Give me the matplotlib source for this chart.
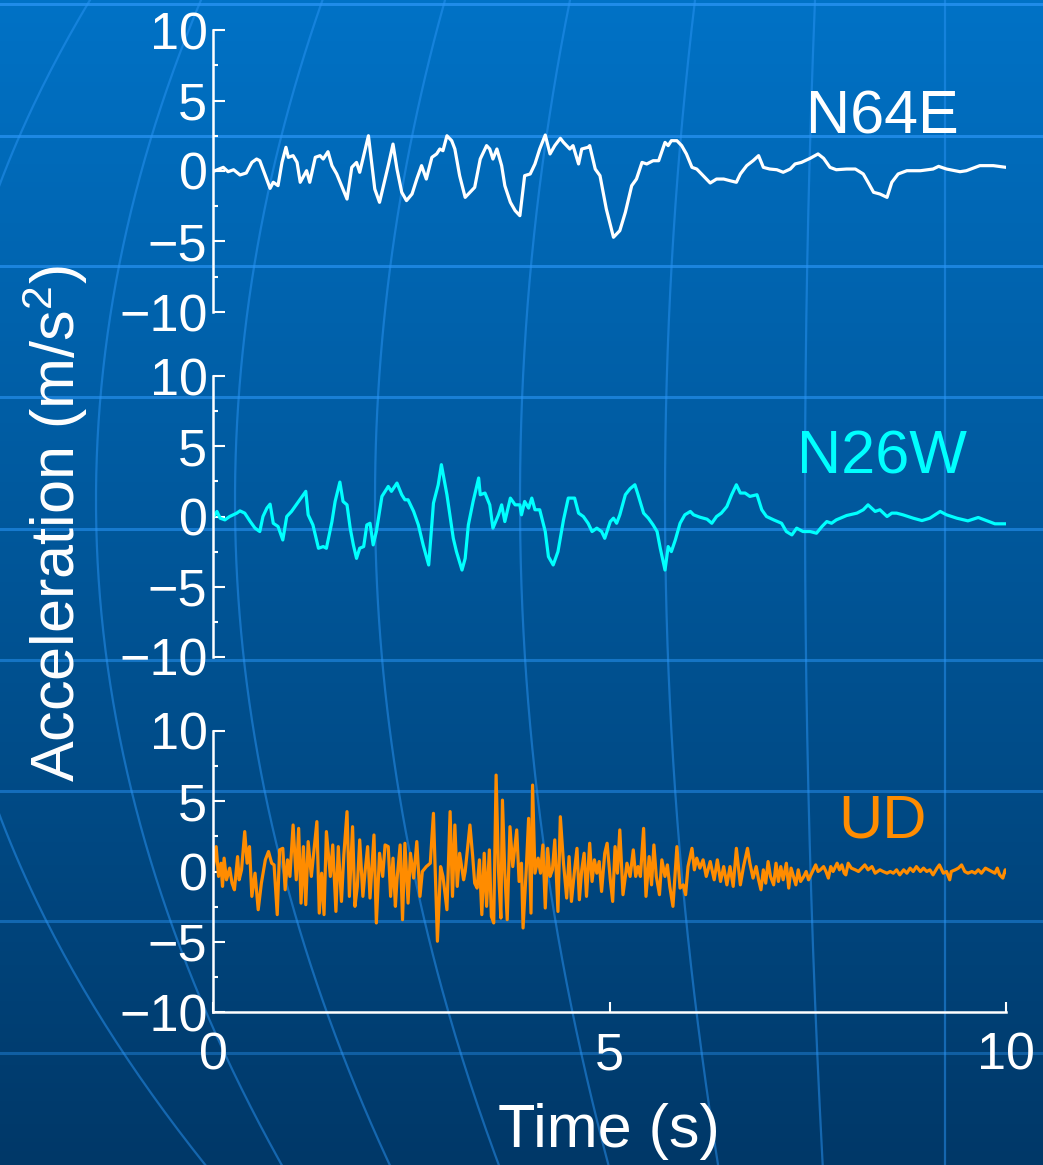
import numpy as np
import matplotlib
matplotlib.use("Agg")
import matplotlib.pyplot as plt
from matplotlib.ticker import MultipleLocator

plt.rcParams['font.family'] = ['Liberation Sans', 'DejaVu Sans']
plt.rcParams['mathtext.fontset'] = 'custom'
plt.rcParams['mathtext.rm'] = 'Liberation Sans'
plt.rcParams['mathtext.it'] = 'Liberation Sans:italic'
plt.rcParams['axes.unicode_minus'] = True

# ---------------- data ----------------
n64e_t = [0.025, 0.13, 0.19, 0.26, 0.34, 0.42, 0.49, 0.55, 0.59, 0.66, 0.72, 0.76, 0.82, 0.87, 0.92, 0.95,
          1.01, 1.06, 1.10, 1.18, 1.22, 1.29, 1.35, 1.39, 1.45, 1.50, 1.56, 1.62, 1.69, 1.75, 1.81, 1.85,
          1.90, 1.96, 2.00, 2.04, 2.10, 2.15, 2.21, 2.27, 2.32, 2.38, 2.44, 2.51, 2.57, 2.63, 2.69, 2.76,
          2.82, 2.86, 2.90, 2.95, 3.01, 3.05, 3.11, 3.18, 3.24, 3.30, 3.37, 3.45, 3.49, 3.53, 3.58, 3.64,
          3.68, 3.75, 3.81, 3.87, 3.93, 4.00, 4.06, 4.12, 4.19, 4.25, 4.31, 4.38, 4.42, 4.50, 4.54, 4.61,
          4.65, 4.73, 4.75, 4.82, 4.88, 4.96, 5.05, 5.13, 5.20, 5.28, 5.34, 5.41, 5.47, 5.55, 5.62, 5.70,
          5.74, 5.78, 5.85, 5.91, 5.97, 6.04, 6.10, 6.18, 6.27, 6.35, 6.44, 6.52, 6.60, 6.65, 6.73, 6.81,
          6.88, 6.94, 7.02, 7.11, 7.19, 7.28, 7.34, 7.42, 7.53, 7.63, 7.70, 7.78, 7.86, 7.99, 8.10, 8.20,
          8.26, 8.33, 8.41, 8.50, 8.56, 8.64, 8.75, 8.92, 9.08, 9.15, 9.25, 9.42, 9.50, 9.67, 9.84, 10.0]
n64e_a = [0.02, 0.26, -0.05, 0.09, -0.28, -0.14, 0.61, 0.85, 0.73, -0.33, -1.23, -0.80, -1.04, 0.61, 1.68, 0.97,
          1.09, 0.61, -0.80, 0.02, -0.80, 0.97, 1.09, 0.85, 1.37, 0.38, -0.21, -1.04, -1.99, 0.26, 0.61, -0.09,
          1.09, 2.50, 0.61, -1.28, -2.22, -1.04, 0.38, 1.91, 0.14, -1.51, -2.10, -1.63, -0.57, 0.38, -0.57, 0.97,
          1.21, 1.56, 1.44, 2.50, 2.15, 1.56, -0.33, -1.87, -1.51, -1.16, 0.85, 1.80, 1.56, 0.85, 1.56, 0.38,
          -1.04, -2.22, -2.81, -3.17, -0.33, -0.21, 0.50, 1.56, 2.55, 1.21, 1.80, 2.32, 2.03, 1.56, 1.80, 0.50,
          1.56, 1.68, 1.80, 0.14, -0.33, -2.70, -4.70, -4.23, -2.93, -1.04, -0.57, 0.61, 0.50, 0.73, 0.73, 2.03,
          1.80, 2.15, 2.15, 1.80, 1.21, 0.26, 0.14, -0.33, -0.85, -0.57, -0.57, -0.69, -0.80, -0.21, 0.38, 0.73,
          1.09, 0.26, 0.14, 0.09, -0.09, 0.14, 0.50, 0.61, 0.90, 1.21, 0.90, 0.26, 0.09, 0.14, 0.14, -0.21,
          -0.80, -1.51, -1.63, -1.87, -0.80, -0.21, 0.02, 0.02, 0.14, 0.33, 0.14, -0.05, 0.02, 0.38, 0.38, 0.26]

n26w_t = [0.00, 0.05, 0.09, 0.15, 0.21, 0.30, 0.34, 0.40, 0.47, 0.53, 0.59, 0.63, 0.68, 0.72, 0.76, 0.82,
          0.88, 0.93, 0.99, 1.08, 1.14, 1.17, 1.20, 1.26, 1.33, 1.39, 1.43, 1.50, 1.54, 1.60, 1.64, 1.69,
          1.73, 1.77, 1.81, 1.85, 1.90, 1.94, 1.98, 2.02, 2.06, 2.13, 2.21, 2.25, 2.32, 2.38, 2.42, 2.46,
          2.53, 2.59, 2.65, 2.72, 2.78, 2.84, 2.88, 2.95, 3.03, 3.07, 3.14, 3.18, 3.22, 3.28, 3.35, 3.37,
          3.43, 3.49, 3.53, 3.60, 3.64, 3.68, 3.75, 3.81, 3.87, 3.89, 3.93, 3.98, 4.02, 4.06, 4.12, 4.19,
          4.23, 4.29, 4.35, 4.42, 4.48, 4.56, 4.61, 4.67, 4.73, 4.78, 4.84, 4.90, 4.94, 5.01, 5.05, 5.09,
          5.13, 5.20, 5.26, 5.32, 5.36, 5.43, 5.49, 5.55, 5.60, 5.64, 5.70, 5.74, 5.78, 5.83, 5.89, 5.95,
          6.02, 6.06, 6.14, 6.23, 6.29, 6.35, 6.41, 6.48, 6.54, 6.60, 6.65, 6.71, 6.77, 6.86, 6.92, 6.98,
          7.07, 7.17, 7.23, 7.30, 7.36, 7.44, 7.53, 7.61, 7.68, 7.74, 7.80, 7.86, 7.99, 8.12, 8.20, 8.26,
          8.35, 8.41, 8.50, 8.56, 8.62, 8.70, 8.83, 8.94, 9.04, 9.17, 9.25, 9.38, 9.52, 9.65, 9.76, 9.86, 9.99]
n26w_a = [-0.12, 0.36, -0.12, -0.24, 0.00, 0.24, 0.40, 0.24, -0.36, -0.83, -1.07, 0.00, 0.60, 0.88, -0.48, -0.71,
          -1.67, 0.00, 0.36, 1.07, 1.55, 1.79, 0.12, -0.60, -2.26, -2.14, -2.26, -0.36, 1.07, 2.45, 1.07, 0.83,
          -0.83, -2.02, -2.98, -2.26, -2.14, -0.60, -0.48, -2.02, -1.07, 1.43, 2.14, 1.79, 2.38, 1.55, 1.19, 1.19,
          0.36, -0.60, -2.02, -3.45, 0.95, 2.26, 3.69, 1.55, -1.55, -2.50, -3.81, -2.98, -0.60, 1.07, 2.74, 1.55,
          1.67, 0.83, -0.83, 0.12, 0.83, -0.36, 1.31, 0.83, 0.83, 0.12, 1.07, 0.60, 1.31, 0.48, 0.48, -1.07,
          -2.86, -3.45, -2.50, -0.24, 1.31, 1.31, 0.24, 0.00, -0.48, -1.07, -0.83, -1.07, -1.55, -0.36, -0.12, -0.48,
          0.12, 1.55, 1.98, 2.26, 1.55, 0.24, -0.12, -0.60, -1.07, -2.26, -3.81, -2.14, -2.50, -1.67, -0.48, 0.12,
          0.36, 0.12, -0.05, -0.19, -0.48, 0.00, 0.24, 0.71, 1.55, 2.26, 1.67, 1.67, 1.43, 1.55, 0.48, 0.00,
          -0.24, -0.48, -1.07, -1.31, -0.83, -1.07, -1.07, -1.19, -0.71, -0.36, -0.48, -0.24, 0.07, 0.24, 0.48, 0.83,
          0.36, 0.48, 0.00, 0.24, 0.24, 0.12, -0.12, -0.29, -0.12, 0.36, 0.12, -0.12, -0.31, -0.07, -0.31, -0.52, -0.52]

ud_t = [0.00, 0.04, 0.07, 0.10, 0.12, 0.14, 0.17, 0.21, 0.24, 0.27, 0.31, 0.33, 0.36, 0.40, 0.43, 0.46,
        0.49, 0.53, 0.57, 0.61, 0.66, 0.70, 0.74, 0.77, 0.81, 0.84, 0.88, 0.91, 0.94, 0.97, 1.01, 1.05,
        1.08, 1.11, 1.14, 1.17, 1.20, 1.24, 1.27, 1.31, 1.34, 1.37, 1.40, 1.43, 1.48, 1.51, 1.55, 1.58,
        1.62, 1.65, 1.69, 1.72, 1.76, 1.79, 1.82, 1.85, 1.89, 1.92, 1.95, 1.98, 2.03, 2.06, 2.10, 2.14,
        2.17, 2.21, 2.24, 2.27, 2.30, 2.32, 2.36, 2.39, 2.42, 2.46, 2.49, 2.53, 2.57, 2.61, 2.64, 2.69,
        2.74, 2.78, 2.83, 2.87, 2.90, 2.95, 2.99, 3.02, 3.05, 3.08, 3.11, 3.16, 3.18,
        3.24, 3.275, 3.30, 3.33, 3.36, 3.39, 3.42, 3.45, 3.485, 3.51, 3.54, 3.57, 3.60, 3.63, 3.65, 3.68,
        3.71, 3.745, 3.78, 3.83, 3.86, 3.89, 3.91, 3.95, 3.98, 4.01, 4.03, 4.06, 4.10, 4.13, 4.16, 4.19,
        4.22, 4.25, 4.28, 4.31, 4.35, 4.38, 4.42, 4.46, 4.49, 4.52, 4.56, 4.59, 4.62, 4.65, 4.68, 4.71,
        4.75, 4.78, 4.81, 4.84, 4.87, 4.90, 4.94, 4.97, 5.01, 5.04, 5.07, 5.10, 5.13, 5.17, 5.20, 5.22,
        5.26, 5.30, 5.33, 5.36, 5.39, 5.43, 5.46, 5.50, 5.53, 5.56, 5.59, 5.63, 5.66, 5.70, 5.73, 5.76,
        5.80, 5.85, 5.89, 5.93, 5.96, 5.99, 6.04, 6.07, 6.10, 6.14, 6.18, 6.22, 6.27, 6.32, 6.36, 6.40,
        6.44, 6.48, 6.52, 6.56, 6.60, 6.65, 6.69, 6.74, 6.77,
        6.81, 6.85, 6.88, 6.91, 6.94, 6.97, 7.00, 7.03, 7.07, 7.10, 7.13, 7.16, 7.19, 7.23, 7.26, 7.29,
        7.32, 7.35, 7.38, 7.41, 7.45, 7.48, 7.51, 7.54, 7.57, 7.60, 7.63, 7.66, 7.70, 7.73, 7.76, 7.79,
        7.82, 7.87, 7.90, 7.93, 7.96, 7.98, 8.01, 8.05, 8.10, 8.14, 8.18, 8.22, 8.26, 8.31, 8.35, 8.38,
        8.41, 8.45, 8.50, 8.54, 8.58, 8.62, 8.66, 8.71, 8.75, 8.79, 8.83, 8.87, 8.92, 8.96, 9.00, 9.04,
        9.08, 9.13, 9.16, 9.21, 9.25, 9.29, 9.31, 9.36, 9.40, 9.44, 9.48, 9.52, 9.57, 9.61, 9.65, 9.69,
        9.74, 9.78, 9.82, 9.86, 9.89, 9.92, 9.96, 9.99, 10.0]
ud_a = [0.12, 1.77, -0.35, 0.59, -1.06, 0.95, -0.59, 0.24, -0.83, -1.30, 1.06, -0.59, 0.12, 2.84, 0.59, 1.77,
        -1.77, -0.12, -2.72, -0.83, 0.83, 1.42, 0.59, 0.47, -3.07, 1.54, 1.65, -1.30, 0.83, -0.35, 3.31, -0.59,
        3.07, -2.25, 1.77, -2.36, 2.13, -0.35, 1.30, 3.55, -2.96, -0.12, -3.07, 2.84, -0.35, 1.89, -2.84, 1.77,
        -2.13, 1.18, 4.26, -1.77, 3.19, -2.48, -1.06, 2.25, -1.77, 0.12, 1.77, -1.89, 2.60, -3.66, 1.30, -0.35,
        1.89, 1.77, -1.77, 0.95, -2.48, -0.59, 1.89, -3.43, 2.01, -2.25, 1.30, -0.47, 2.13, -1.77, 0.00, 0.35,
        0.59, 4.14, -4.96, 0.35, -0.35, -2.72, 4.26, -1.77, 3.31, -1.06, 1.30, -0.59, 0.00,
        3.31, 1.06, -0.83, -1.18, 0.83, -3.07, 1.30, -2.48, 1.54, -3.19, -3.66, 6.86, 0.12, -3.31, 5.08, -0.12,
        -3.43, 3.19, 0.35, 2.96, -0.71, 0.59, -4.02, 0.12, 3.78, -2.96, 6.15, -0.12, 0.95, -0.12, 1.89, -2.60,
        1.65, -0.35, 0.12, 2.25, -2.84, 3.90, 0.59, -1.89, 1.06, -2.13, 0.12, 1.65, -2.01, 0.12, 1.30, -1.77,
        2.01, -0.71, 0.83, -0.12, 0.71, -1.42, 1.30, 2.01, -0.59, -2.13, 1.77, -0.12, 2.96, -1.65, -0.35, 0.59,
        -0.35, 1.54, -0.35, 0.35, -0.35, 3.07, -1.77, 1.06, -0.95, 1.89, -0.35, -1.65, 0.83, -0.35, 0.47, -1.06,
        -2.48, 1.77, -1.18, -0.95, -1.65, 0.35, 1.65, 0.12, 0.95, 0.24, 0.83, -0.35, 0.71, -0.59, 0.83, -0.71,
        0.35, -0.95, 0.35, -1.06, 1.65, -0.95, 0.35, 1.65, 0.59,
        -0.47, 0.35, -0.59, -1.30, 0.12, -0.83, 0.71, -0.35, -0.95, 0.59, -0.71, 0.35, -0.59, 0.59, -1.18, 0.24,
        -0.35, -0.95, 0.12, -0.71, -0.35, 0.00, -0.59, -0.24, 0.12, 0.47, 0.00, 0.12, 0.35, 0.00, -0.47, 0.35,
        0.00, 0.59, 0.12, 0.47, -0.12, -0.24, 0.59, 0.24, 0.12, 0.00, 0.24, 0.47, 0.12, 0.35, -0.12, 0.00,
        0.12, 0.00, -0.12, 0.00, -0.12, 0.12, -0.24, 0.12, -0.12, 0.24, 0.00, 0.35, 0.00, 0.24, 0.00, 0.12,
        -0.24, 0.24, 0.47, -0.12, 0.00, -0.59, 0.00, 0.12, 0.24, 0.47, 0.00, -0.12, 0.00, -0.12, 0.12, -0.12,
        0.24, 0.12, 0.00, -0.12, 0.24, -0.24, -0.47, 0.12, 0.00]

series_names = ['N64E', 'N26W', 'UD']
series_colors = ['#FFFFFF', '#00FFFF', '#FF8C00']
y_ticks = [-10, -5, 0, 5, 10]
x_ticks = [0, 5, 10]

# ---------------- figure ----------------
W, H = 1043, 1165
fig = plt.figure(figsize=(W / 100, H / 100), dpi=100)

# background: gradient + decorative grid lines (like the slide template)
bg = fig.add_axes([0, 0, 1, 1], zorder=-10)
bg.set_xlim(0, W)
bg.set_ylim(H, 0)
bg.axis('off')
top_c = np.array([0x00, 0x72, 0xC6]) / 255
bot_c = np.array([0x00, 0x38, 0x68]) / 255
g = np.linspace(0, 1, 256)[:, None]
grad = (top_c[None, :] * (1 - g) + bot_c[None, :] * g)[:, None, :]
bg.imshow(grad, extent=[0, W, H, 0], aspect='auto', zorder=0)
for yh in [4, 136, 266, 397, 529, 660, 791, 921, 1053]:
    a = 0.75 - 0.4 * yh / H
    bg.plot([0, W], [yh, yh], color='#2A95F5', lw=2.2, alpha=a, zorder=1)
yy = np.linspace(0, H, 200)
for xv, k in zip([-60, 96, 235, 375, 520, 665, 805, 945],
                 [0.0006, 0.00042, 0.00035, 0.00028, 0.0002, 0.00012, 0.00004, 0.0]):
    bg.plot(xv + k * (yy - 500) ** 2, yy, color='#2A95F5', lw=1.6, alpha=0.5, zorder=1)

left = 213 / W
width = (1006 - 213) / W
panels = [(30, 312), (376, 657), (731, 1012)]
data = [(n64e_t, n64e_a), (n26w_t, n26w_a), (ud_t, ud_a)]
label_base = [133, 473, 837]

axes = []
for i, ((ytop, ybot), (t, a)) in enumerate(zip(panels, data)):
    ax = fig.add_axes([left, 1 - ybot / H, width, (ybot - ytop) / H])
    ax.patch.set_alpha(0)
    ax.plot(t, a, color=series_colors[i], lw=2.3, solid_joinstyle='round')
    ax.set_xlim(0, 10)
    ax.set_ylim(-10, 10)
    ax.set_yticks(y_ticks)
    ax.yaxis.set_minor_locator(MultipleLocator(2.5))
    for s in ['top', 'right']:
        ax.spines[s].set_visible(False)
    ax.spines['left'].set_color('white')
    ax.spines['left'].set_linewidth(1.8)
    ax.tick_params(axis='y', which='major', direction='in', length=8.5, width=1.5,
                   colors='white', labelsize=37.5, pad=4)
    ax.tick_params(axis='y', which='minor', direction='in', length=3.8, width=1.5, colors='white')
    if i < 2:
        ax.spines['bottom'].set_visible(False)
        ax.set_xticks([])
    else:
        ax.spines['bottom'].set_color('white')
        ax.spines['bottom'].set_linewidth(1.8)
        ax.set_xticks(x_ticks)
        ax.tick_params(axis='x', which='major', direction='in', length=7, width=1.5,
                       colors='white', labelsize=37.5, pad=14)
    fig.text(882 / W, 1 - label_base[i] / H, series_names[i], color=series_colors[i],
             fontsize=44, ha='center', va='baseline')
    axes.append(ax)

fig.text(609 / W, 1 - 1132 / H, 'Time (s)', color='white', fontsize=44, ha='center', va='center')
fig.text(55 / W, 1 - 524 / H, 'Acceleration (m/s$^{2}$)', color='white', fontsize=44,
         ha='center', va='center', rotation=90)

fig.savefig('out.png', dpi=100)
